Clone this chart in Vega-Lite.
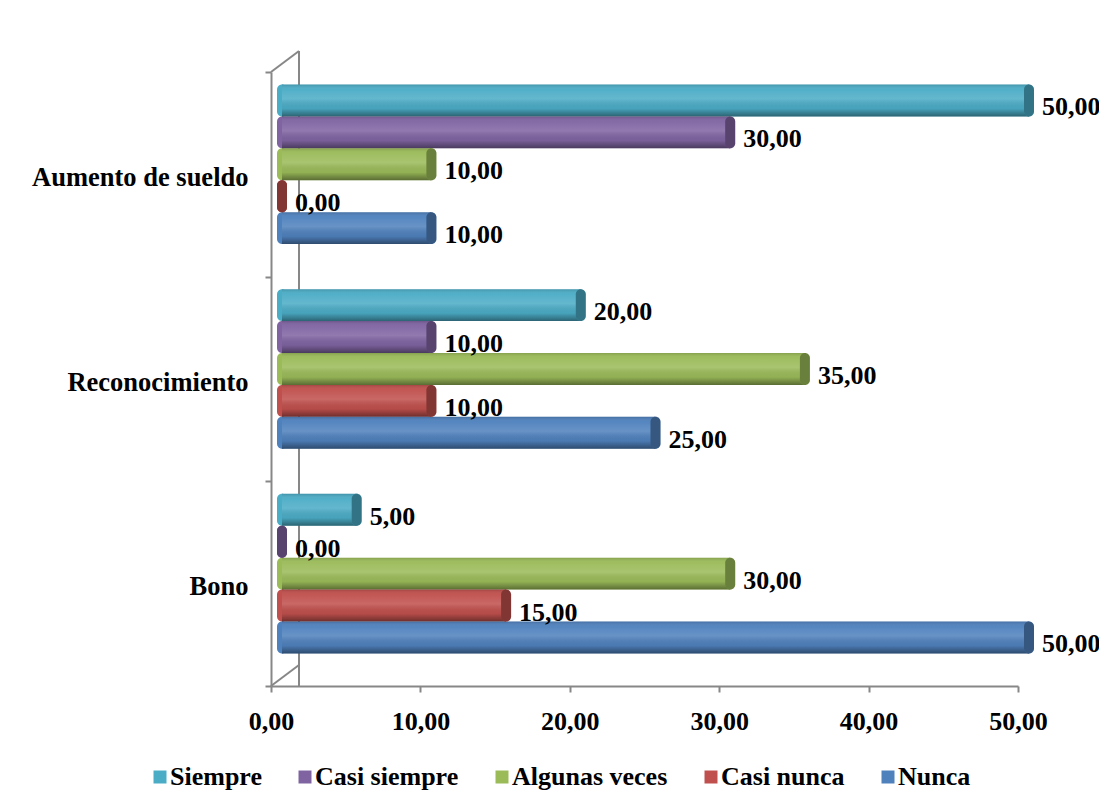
{
  "$schema": "https://vega.github.io/schema/vega-lite/v6.json",
  "width": 747,
  "height": 614,
  "autosize": {"type": "none"},
  "padding": {"left": 271, "top": 72, "right": 81, "bottom": 123},
  "background": "white",
  "config": {
    "locale": {"number": {"decimal": ",", "thousands": ".", "grouping": [3], "currency": ["", " €"]}},
    "view": {"stroke": null},
    "font": "Liberation Serif"
  },
  "data": {
    "values": [
      {"item": "Aumento de sueldo", "serie": "Siempre", "valor": 50},
      {"item": "Aumento de sueldo", "serie": "Casi siempre", "valor": 30},
      {"item": "Aumento de sueldo", "serie": "Algunas veces", "valor": 10},
      {"item": "Aumento de sueldo", "serie": "Casi nunca", "valor": 0},
      {"item": "Aumento de sueldo", "serie": "Nunca", "valor": 10},
      {"item": "Reconocimiento", "serie": "Siempre", "valor": 20},
      {"item": "Reconocimiento", "serie": "Casi siempre", "valor": 10},
      {"item": "Reconocimiento", "serie": "Algunas veces", "valor": 35},
      {"item": "Reconocimiento", "serie": "Casi nunca", "valor": 10},
      {"item": "Reconocimiento", "serie": "Nunca", "valor": 25},
      {"item": "Bono", "serie": "Siempre", "valor": 5},
      {"item": "Bono", "serie": "Casi siempre", "valor": 0},
      {"item": "Bono", "serie": "Algunas veces", "valor": 30},
      {"item": "Bono", "serie": "Casi nunca", "valor": 15},
      {"item": "Bono", "serie": "Nunca", "valor": 50}
    ]
  },
  "layer": [
    {
      "mark": {"type": "rule", "color": "#878787", "strokeWidth": 2, "xOffset": 28, "x2Offset": 28, "yOffset": -21, "y2Offset": -21},
      "encoding": {
        "x": {"datum": 0, "type": "quantitative", "title": null}
      }
    },
    {
      "data": {"values": [{}]},
      "mark": {"type": "rule", "color": "#878787", "strokeWidth": 2, "x2Offset": 28, "y2Offset": -21},
      "encoding": {
        "x": {"datum": 0, "type": "quantitative", "title": null},
        "x2": {"datum": 0},
        "y": {"datum": "Aumento de sueldo", "type": "nominal", "bandPosition": 0, "title": null},
        "y2": {"datum": "Aumento de sueldo", "bandPosition": 0}
      }
    },
    {
      "data": {"values": [{}]},
      "mark": {"type": "rule", "color": "#878787", "strokeWidth": 2, "x2Offset": 28, "y2Offset": -21},
      "encoding": {
        "x": {"datum": 0, "type": "quantitative", "title": null},
        "x2": {"datum": 0},
        "y": {"datum": "Bono", "type": "nominal", "bandPosition": 1, "title": null},
        "y2": {"datum": "Bono", "bandPosition": 1}
      }
    },
    {
      "encoding": {
        "y": {
          "field": "item",
          "type": "nominal",
          "sort": ["Aumento de sueldo", "Reconocimiento", "Bono"],
          "scale": {"paddingInner": 0, "paddingOuter": 0},
          "title": null,
          "axis": {
            "title": null,
            "tickBand": "extent",
            "domainColor": "#878787",
            "domainWidth": 2,
            "tickColor": "#878787",
            "tickWidth": 2,
            "tickSize": 6,
            "labelFont": "Liberation Serif",
            "labelFontWeight": "bold",
            "labelFontSize": 26.5,
            "labelColor": "black",
            "labelLimit": 0,
            "labelPadding": 17,
            "labelOffset": 3
          }
        },
        "yOffset": {
          "field": "serie",
          "type": "nominal",
          "sort": ["Siempre", "Casi siempre", "Algunas veces", "Casi nunca", "Nunca"],
          "scale": {"range": [12.5, 172.1], "paddingInner": 0, "paddingOuter": 0}
        },
        "x": {
          "field": "valor",
          "type": "quantitative",
          "title": null,
          "scale": {"domain": [0, 50], "nice": false},
          "axis": {
            "values": [0, 10, 20, 30, 40, 50],
            "format": ".2f",
            "grid": false,
            "domainColor": "#878787",
            "domainWidth": 2,
            "tickColor": "#878787",
            "tickWidth": 2,
            "tickSize": 6,
            "labelFont": "Liberation Serif",
            "labelFontWeight": "bold",
            "labelFontSize": 26,
            "labelColor": "black",
            "labelPadding": 16,
            "labelFlush": false,
            "labelOverlap": false
          }
        },
        "color": {
          "field": "serie",
          "type": "nominal",
          "sort": ["Siempre", "Casi siempre", "Algunas veces", "Casi nunca", "Nunca"],
          "scale": {
            "domain": ["Siempre", "Casi siempre", "Algunas veces", "Casi nunca", "Nunca"],
            "range": ["#4BACC6", "#8064A2", "#9BBB59", "#C0504D", "#4F81BD"]
          },
          "legend": {
            "title": null,
            "orient": "none",
            "direction": "horizontal",
            "legendX": -124,
            "legendY": 692,
            "symbolType": "square",
            "symbolSize": 169,
            "symbolStrokeWidth": 0,
            "symbolOpacity": 1,
            "labelFont": "Liberation Serif",
            "labelFontWeight": "bold",
            "labelFontSize": 26,
            "labelColor": "black",
            "labelOffset": -3,
            "columnPadding": 30
          }
        }
      },
      "layer": [
        {
          "mark": {"type": "bar", "cornerRadius": 5, "xOffset": 6, "x2Offset": 16},
          "encoding": {
            "x": {"datum": 0, "type": "quantitative"},
            "x2": {"datum": 0}
          }
        },
        {
          "mark": {"type": "bar", "xOffset": 11, "x2Offset": 11}
        },
        {
          "mark": {
            "type": "bar",
            "xOffset": 11,
            "x2Offset": 11,
            "fill": {
              "gradient": "linear",
              "x1": 0, "y1": 0, "x2": 0, "y2": 1,
              "stops": [
                {"offset": 0, "color": "rgba(0,0,0,0.14)"},
                {"offset": 0.15, "color": "rgba(255,255,255,0.04)"},
                {"offset": 0.45, "color": "rgba(255,255,255,0.14)"},
                {"offset": 0.75, "color": "rgba(0,0,0,0.05)"},
                {"offset": 1, "color": "rgba(0,0,0,0.42)"}
              ]
            }
          },
          "encoding": {"color": {"value": null}}
        },
        {
          "mark": {"type": "bar", "cornerRadius": 5, "xOffset": 6, "x2Offset": 16},
          "encoding": {
            "x2": {"field": "valor"}
          }
        },
        {
          "mark": {"type": "bar", "cornerRadius": 5, "xOffset": 6, "x2Offset": 16, "fill": "black", "opacity": 0.32},
          "encoding": {
            "x2": {"field": "valor"},
            "color": {"value": null}
          }
        },
        {
          "mark": {"type": "text", "align": "left", "dx": 24, "dy": 7, "font": "Liberation Serif", "fontWeight": "bold", "fontSize": 26},
          "encoding": {
            "text": {"field": "valor", "type": "quantitative", "format": ".2f"},
            "color": {"value": "black"}
          }
        }
      ]
    }
  ]
}
